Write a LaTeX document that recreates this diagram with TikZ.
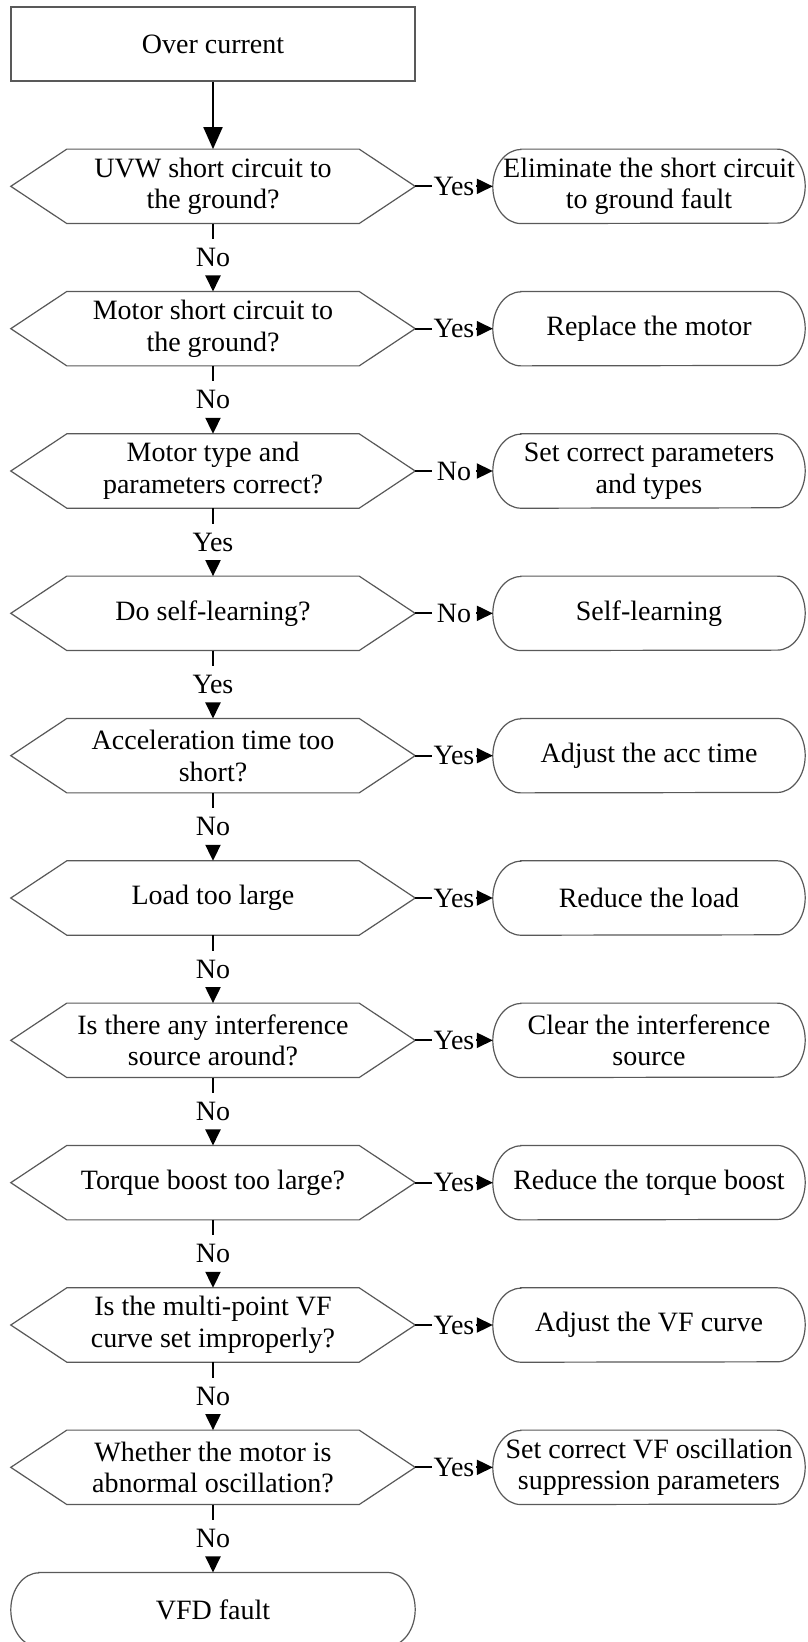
\documentclass[tikz,border=0pt]{standalone}
\usepackage{fontspec}
\setmainfont{Liberation Serif}
\usetikzlibrary{arrows.meta}
\begin{document}
\begin{tikzpicture}[x=1pt,y=-1pt,
  txt/.style={font=\fontsize{28}{31.7}\selectfont, align=center, inner sep=0pt},
  hexbox/.style={txt, minimum width=404pt, minimum height=74pt},
  termbox/.style={txt, minimum width=312pt, minimum height=74pt},
  shapeline/.style={draw=black!65, line width=1.2pt},
  conn/.style={draw=black, line width=2pt},
  arr/.style={conn, -{Triangle[length=16pt,width=15pt]}},
  bigarr/.style={conn, -{Triangle[length=22pt,width=19pt]}},
  hlab/.style={txt, minimum width=44pt},
  vlab/.style={txt, inner ysep=9pt},
]
\fill[white] (0,0) rectangle (807,1642);
\useasboundingbox (0,0) rectangle (807,1642);

\node[hexbox, shapeline] (start) at (213,44) {Over current};

\node[hexbox] (d1)  at (213,186.33) {UVW short circuit to\\the ground?};
\node[hexbox] (d2)  at (213,328.66) {Motor short circuit to\\the ground?};
\node[hexbox] (d3)  at (213,471.00) {Motor type and\\parameters correct?};
\node[hexbox] (d4)  at (213,613.33) {Do self-learning?};
\node[hexbox] (d5)  at (213,755.66) {Acceleration time too\\short?};
\node[hexbox] (d6)  at (213,898.00) {Load too large};
\node[hexbox] (d7)  at (213,1040.33) {Is there any interference\\source around?};
\node[hexbox] (d8)  at (213,1182.66) {Torque boost too large?};
\node[hexbox] (d9)  at (213,1325.00) {Is the multi-point VF\\curve set improperly?};
\node[hexbox] (d10) at (213,1467.33) {Whether the motor is\\abnormal oscillation?};
\node[hexbox] (fin) at (213,1609.66) {VFD fault};

\node[termbox] (r1)  at (649,186.33) {Eliminate the short circuit\\to ground fault};
\node[termbox] (r2)  at (649,328.66) {Replace the motor};
\node[termbox] (r3)  at (649,471.00) {Set correct parameters\\and types};
\node[termbox] (r4)  at (649,613.33) {Self-learning};
\node[termbox] (r5)  at (649,755.66) {Adjust the acc time};
\node[termbox] (r6)  at (649,898.00) {Reduce the load};
\node[termbox] (r7)  at (649,1040.33) {Clear the interference\\source};
\node[termbox] (r8)  at (649,1182.66) {Reduce the torque boost};
\node[termbox] (r9)  at (649,1325.00) {Adjust the VF curve};
\node[termbox] (r10) at (649,1467.33) {Set correct VF oscillation\\suppression parameters};

% hexagon outlines
\foreach \n in {d1,d2,d3,d4,d5,d6,d7,d8,d9,d10}{
  \draw[shapeline] (\n.west) -- ([xshift=56pt]\n.north west) -- ([xshift=-56pt]\n.north east)
    -- (\n.east) -- ([xshift=-56pt]\n.south east) -- ([xshift=56pt]\n.south west) -- cycle;
}
% rounded terminal outlines
\foreach \n in {r1,r2,r3,r4,r5,r6,r7,r8,r9,r10,fin}{
  \draw[shapeline] ([xshift=28pt]\n.north west) -- ([xshift=-28pt]\n.north east)
    arc[start angle=90,end angle=-90,x radius=28pt,y radius=37pt]
    -- ([xshift=28pt]\n.south west)
    arc[start angle=270,end angle=90,x radius=28pt,y radius=37pt] -- cycle;
}

\draw[bigarr] (start.south) -- (d1.north);

\foreach \i/\nxt/\h/\v in {1/d2/Yes/No, 2/d3/Yes/No, 3/d4/No/Yes, 4/d5/No/Yes, 5/d6/Yes/No,
    6/d7/Yes/No, 7/d8/Yes/No, 8/d9/Yes/No, 9/d10/Yes/No, 10/fin/Yes/No}{
  \path (d\i.east) -- node[hlab] (h\i) {\h} (r\i.west);
  \draw[conn] (d\i.east) -- (h\i.west);
  \draw[arr] (h\i.east) -- (r\i.west);
  \path (d\i.south) -- node[vlab] (v\i) {\v} (\nxt.north);
  \draw[conn] (d\i.south) -- (v\i.north);
  \draw[arr] (v\i.south) -- (\nxt.north);
}
\end{tikzpicture}
\end{document}
